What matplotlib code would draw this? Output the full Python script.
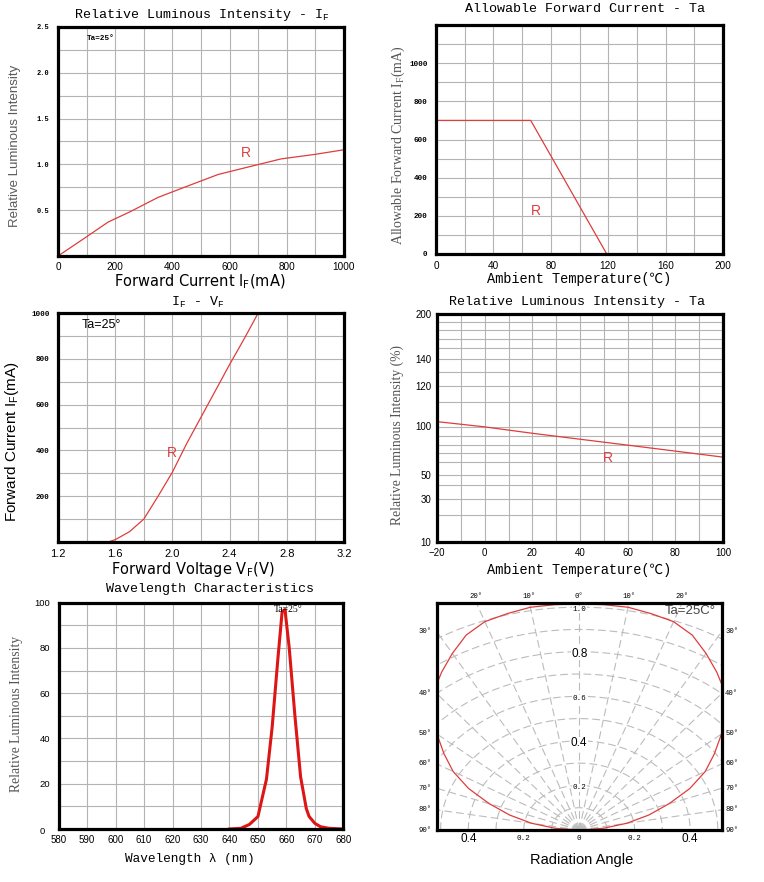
import numpy as np
import matplotlib
matplotlib.use("Agg")
import matplotlib.pyplot as plt

# ---------------- data ----------------
# Panel 1: Relative luminous intensity vs forward current
p1_current = [0, 100, 175, 250, 350, 450, 560, 650, 780, 900, 1000]
p1_rel = [0.0, 0.21, 0.37, 0.48, 0.64, 0.76, 0.89, 0.96, 1.06, 1.11, 1.16]

# Panel 2: Allowable forward current vs ambient temperature
p2_temp = [0, 66, 119]
p2_current = [700, 700, 0]

# Panel 3: IF - VF
p3_volt = [1.2, 1.55, 1.6, 1.7, 1.8, 1.9, 2.0, 2.1, 2.2, 2.3, 2.4, 2.5, 2.6]
p3_current = [0, 0, 10, 45, 100, 200, 305, 430, 545, 660, 775, 885, 1000]

# Panel 4: Relative luminous intensity vs ambient temperature
p4_temp = [-20, 0, 20, 40, 60, 80, 100]
p4_rel = [102, 99.6, 92.7, 86.2, 79.6, 72.4, 65.2]
p4_ticks = [10, 30, 50, 100, 120, 140, 200]
p4_grid = [20, 40, 60, 70, 80, 90, 110, 130, 152, 164, 176, 188]
# axis scale anchors (value -> relative axis height)
p4_scale_vals = [10, 20, 30, 40, 50, 60, 70, 80, 90, 100, 110, 120, 130, 140, 152, 164, 176, 188, 200]
p4_scale_pos = [0, 26.7, 42.7, 56.7, 66.7, 80, 88.4, 96.7, 105.7, 115, 139.4, 156, 170, 182.4,
                193.4, 202.4, 211.7, 220, 228]

# Panel 5: Spectrum
p5_wl = [640, 644, 647, 650, 653, 655, 657, 658.5, 659.5, 661, 663, 665, 667, 668, 670, 672, 675, 680]
p5_rel = [0, 0.3, 2, 5.5, 22, 45, 75, 96, 97, 80, 50, 23, 9, 5.5, 2.5, 1, 0.3, 0]

# Panel 6: radiation pattern (half side, symmetric)
p6_angle = [0, 5, 10, 15, 20, 25, 30, 35, 40, 45, 50, 55, 60, 65, 70, 75, 80, 85, 90]
p6_r = [1.015, 1.015, 1.015, 1.005, 0.995, 0.965, 0.915, 0.865, 0.815, 0.745, 0.67, 0.595, 0.525,
        0.44, 0.345, 0.26, 0.175, 0.087, 0.0]
p6_side_labels = [30, 40, 50, 60, 70, 80, 90]
p6_top_labels = [-20, -10, 0, 10, 20]
p6_radius_labels = [1.0, 0.8, 0.6, 0.4, 0.2]
p6_bottom_labels = [-0.4, -0.2, 0, 0.2, 0.4]

# ---------------- style ----------------
W, H = 764, 882
fig = plt.figure(figsize=(W / 100, H / 100), dpi=100)
fig.patch.set_facecolor("white")

MONO = ["Liberation Mono", "Noto Sans CJK SC", "DejaVu Sans"]
SERIF = ["Liberation Serif", "DejaVu Serif"]
SANS = ["Liberation Sans", "DejaVu Sans"]
GRID = "#b4b4b4"
RED = "#e03c3c"


def add_ax(l, r, t, b):
    return fig.add_axes([l / W, 1 - b / H, (r - l) / W, (b - t) / H])


def style(ax):
    for s in ax.spines.values():
        s.set_linewidth(2.3)
        s.set_color("black")
        s.set_zorder(5)
    ax.tick_params(length=0)
    ax.set_axisbelow(True)


def txt(ax, x, y, s, **kw):
    kw.setdefault("transform", ax.transAxes)
    kw.setdefault("ha", "center")
    kw.setdefault("va", "center")
    ax.text(x, y, s, **kw)


# ---------------- Panel 1 ----------------
ax = add_ax(58, 344, 27, 256)
style(ax)
ax.plot(p1_current, p1_rel, color=RED, lw=0.9)
ax.set_xlim(0, 1000)
ax.set_ylim(0, 2.5)
ax.set_xticks(np.arange(0, 1001, 200))
ax.set_xticks(np.arange(100, 1000, 200), minor=True)
ax.set_yticks([0.5, 1.0, 1.5, 2.0, 2.5])
ax.set_yticklabels(["0.5", "1.0", "1.5", "2.0", "2.5"])
ax.set_yticks(np.arange(0.25, 2.5, 0.5), minor=True)
ax.grid(True, which="both", color=GRID, lw=0.8)
ax.tick_params(which="both", length=0)
for lab in ax.get_xticklabels():
    lab.set_family(SANS); lab.set_fontsize(7.2)
for lab in ax.get_yticklabels():
    lab.set_family(MONO); lab.set_fontsize(5); lab.set_fontweight("bold")
ax.tick_params(axis="x", pad=4)
ax.tick_params(axis="y", pad=6)
txt(ax, 0.502, 1.052, r"Relative Luminous Intensity - I$\mathregular{_F}$", family=MONO, fontsize=9.6)
txt(ax, 0.497, -0.113, r"Forward Current I$\mathregular{_F}$(mA)", family=["DejaVu Sans"], fontsize=10.5)
txt(ax, -0.150, 0.48, "Relative Luminous Intensity", family=SANS, fontsize=9.5, rotation=90, color="#5a5a5a")
txt(ax, 0.149, 0.948, "Ta=25°", family=MONO, fontsize=5.5, fontweight="bold")
ax.text(656, 1.12, "R", color=RED, family=SANS, fontsize=10, ha="center", va="center")

# ---------------- Panel 2 ----------------
ax = add_ax(436, 723, 25, 254)
style(ax)
ax.plot(p2_temp, p2_current, color=RED, lw=0.9)
ax.set_xlim(0, 200)
ax.set_ylim(0, 1200)
ax.set_xticks(np.arange(0, 201, 40))
ax.set_xticks(np.arange(20, 200, 40), minor=True)
ax.set_yticks(np.arange(0, 1001, 200))
ax.set_yticks(np.arange(100, 1200, 200), minor=True)
ax.grid(True, which="both", color=GRID, lw=0.8)
ax.tick_params(which="both", length=0)
for lab in ax.get_xticklabels():
    lab.set_family(SANS); lab.set_fontsize(7.2)
for lab in ax.get_yticklabels():
    lab.set_family(MONO); lab.set_fontsize(5.5); lab.set_fontweight("bold")
ax.tick_params(axis="x", pad=5)
ax.tick_params(axis="y", pad=6)
txt(ax, 0.518, 1.068, "Allowable Forward Current - Ta", family=MONO, fontsize=9.6)
txt(ax, 0.50, -0.109, "Ambient Temperature(℃)", family=MONO, fontsize=9.8)
txt(ax, -0.131, 0.476, r"Allowable Forward Current I$\mathregular{_F}$(mA)", family=SERIF, fontsize=10,
    rotation=90, color="#555555")
ax.text(69.8, 227, "R", color=RED, family=SANS, fontsize=10, ha="center", va="center")

# ---------------- Panel 3 ----------------
ax = add_ax(58, 344, 313, 542)
style(ax)
ax.plot(p3_volt, p3_current, color=RED, lw=0.9)
ax.set_xlim(1.2, 3.2)
ax.set_ylim(0, 1000)
ax.set_xticks([1.2, 1.6, 2.0, 2.4, 2.8, 3.2])
ax.set_xticklabels(["1.2", "1.6", "2.0", "2.4", "2.8", "3.2"])
ax.set_xticks([1.4, 1.8, 2.2, 2.6, 3.0], minor=True)
ax.set_yticks(np.arange(200, 1001, 200))
ax.set_yticks(np.arange(100, 1000, 200), minor=True)
ax.grid(True, which="both", color=GRID, lw=0.8)
ax.tick_params(which="both", length=0)
for lab in ax.get_xticklabels():
    lab.set_family(SANS); lab.set_fontsize(8)
for lab in ax.get_yticklabels():
    lab.set_family(MONO); lab.set_fontsize(5.5); lab.set_fontweight("bold")
ax.tick_params(axis="x", pad=5)
ax.tick_params(axis="y", pad=6)
txt(ax, 0.49, 1.048, r"I$\mathregular{_F}$ - V$\mathregular{_F}$", family=MONO, fontsize=9.6)
txt(ax, 0.47, -0.118, r"Forward Voltage V$\mathregular{_F}$(V)", family=["DejaVu Sans"], fontsize=10.5)
txt(ax, -0.161, 0.439, r"Forward Current I$\mathregular{_F}$(mA)", family=SANS, fontsize=11, rotation=90)
txt(ax, 0.152, 0.947, "Ta=25°", family=SANS, fontsize=9)
ax.text(1.995, 387, "R", color=RED, family=SANS, fontsize=10, ha="center", va="center")

# ---------------- Panel 4 ----------------
ax = add_ax(437, 723, 313.5, 541.5)
style(ax)
fwd = lambda v: np.interp(v, p4_scale_vals, p4_scale_pos)
inv = lambda p: np.interp(p, p4_scale_pos, p4_scale_vals)
ax.set_yscale("function", functions=(fwd, inv))
ax.plot(p4_temp, p4_rel, color=RED, lw=0.9)
ax.set_xlim(-20, 100)
ax.set_ylim(10, 200)
ax.set_xticks(np.arange(-20, 101, 20))
ax.set_xticklabels(["\u221220", "0", "20", "40", "60", "80", "100"])
ax.set_xticks(np.arange(-10, 100, 20), minor=True)
ax.set_yticks(p4_ticks)
ax.set_yticklabels([str(v) for v in p4_ticks])
ax.set_yticks(p4_grid, minor=True)
ax.yaxis.set_minor_formatter(matplotlib.ticker.NullFormatter())
ax.grid(True, which="both", color=GRID, lw=0.8)
ax.tick_params(which="both", length=0)
for lab in ax.get_xticklabels():
    lab.set_family(SANS); lab.set_fontsize(7)
for lab in ax.get_yticklabels():
    lab.set_family(SANS); lab.set_fontsize(7)
ax.tick_params(axis="x", pad=5)
ax.tick_params(axis="y", pad=4)
txt(ax, 0.49, 1.051, "Relative Luminous Intensity - Ta", family=MONO, fontsize=9.6)
txt(ax, 0.498, -0.124, "Ambient Temperature(℃)", family=MONO, fontsize=9.8)
txt(ax, -0.138, 0.468, "Relative Luminous Intensity (%)", family=SERIF, fontsize=9.8, rotation=90,
    color="#555555")
ax.text(51.6, 64, "R", color=RED, family=SANS, fontsize=10, ha="center", va="center")

# ---------------- Panel 5 ----------------
ax = add_ax(58.7, 343.3, 602.7, 829)
style(ax)
ax.plot(p5_wl, p5_rel, color="#dd1515", lw=2.2, solid_joinstyle="round")
ax.set_xlim(580, 680)
ax.set_ylim(0, 100)
ax.set_xticks(np.arange(580, 681, 10))
ax.set_yticks(np.arange(20, 101, 20))
ax.set_yticks(np.arange(10, 100, 20), minor=True)
ax.grid(True, which="both", color=GRID, lw=0.8)
ax.tick_params(which="both", length=0)
for lab in ax.get_xticklabels():
    lab.set_family(SANS); lab.set_fontsize(7)
for lab in ax.get_yticklabels():
    lab.set_family(SANS); lab.set_fontsize(6.8)
ax.tick_params(axis="x", pad=4)
ax.tick_params(axis="y", pad=6)
txt(ax, -0.058, -0.012, "0", family=SANS, fontsize=6.8)
txt(ax, 0.533, 1.061, "Wavelength Characteristics", family=MONO, fontsize=9.6)
txt(ax, 0.46, -0.133, "Wavelength λ (nm)", family=MONO, fontsize=9.2)
txt(ax, -0.147, 0.51, "Relative Luminous Intensity", family=SERIF, fontsize=9.8, rotation=90,
    color="#555555")
ax.text(660.7, 96.9, "Ta=25°", family=SERIF, fontsize=7, ha="center", va="center")

# ---------------- Panel 6 ----------------
ax = add_ax(436.7, 721.7, 602.7, 830)
style(ax)
XL = 0.514
YT = 1.02
ax.set_xlim(-XL, XL)
ax.set_ylim(0, YT)
ax.set_xticks([])
ax.set_yticks([])
PGRID = "#bcbcbc"
tt = np.radians(np.linspace(-90, 90, 361))
for rr in np.arange(0.1, 1.01, 0.1):
    ax.plot(rr * np.sin(tt), rr * np.cos(tt), color=PGRID, lw=0.8, dashes=(7, 3.5), zorder=1)
for a in range(-90, 91, 10):
    ra = np.radians(a)
    ax.plot([0, 1.5 * np.sin(ra)], [0, 1.5 * np.cos(ra)], color=PGRID, lw=0.8, dashes=(7, 3.5), zorder=1)
ang = np.radians(np.array([-a for a in p6_angle[::-1]] + p6_angle[1:]))
rad = np.array(p6_r[::-1] + p6_r[1:])
ax.plot(rad * np.sin(ang), rad * np.cos(ang), color=RED, lw=0.9, zorder=3)
# radial labels along centre
for val in p6_radius_labels:
    big = val in (0.8, 0.4)
    ax.text(0, val - 0.01, f"{val:.1f}", family=SANS if big else MONO, fontsize=8.5 if big else 5.5,
            ha="center", va="center", zorder=4, bbox=dict(fc="white", ec="none", pad=0.3))
# side angle labels
blend = matplotlib.transforms.blended_transform_factory(ax.transAxes, ax.transData)
for a in p6_side_labels:
    ra = np.radians(a)
    yv = XL / np.tan(ra) if a < 90 else 0.0
    for xa, ha in [(-0.018, "right"), (1.012, "left")]:
        ax.text(xa, yv, f"{a}°", family=MONO, fontsize=5.2, ha=ha, va="center", transform=blend)
# top angle labels
for a in p6_top_labels:
    xv = np.tan(np.radians(a)) * YT
    ax.text(xv, YT + 0.012, f"{abs(a)}°", family=MONO, fontsize=5.2, ha="center", va="bottom")
# bottom labels
for xv in p6_bottom_labels:
    big = abs(xv) == 0.4
    s = "0" if xv == 0 else f"{abs(xv):.1f}"
    ax.text(xv, -0.04, s, family=SANS if big else MONO, fontsize=8.5 if big else 5.5,
            ha="center", va="center")
txt(ax, 0.508, -0.132, "Radiation Angle", family=SANS, fontsize=10.5)
txt(ax, 0.889, 0.962, "Ta=25C°", family=SANS, fontsize=9.5, color="#444444")

fig.savefig("out.png", dpi=100, facecolor="white")
